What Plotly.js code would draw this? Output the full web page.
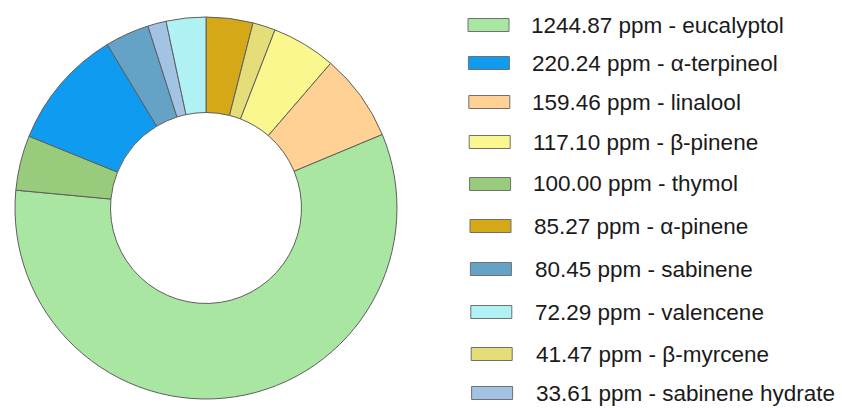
<!DOCTYPE html>
<html>
<head>
<meta charset="utf-8">
<script src="https://cdn.plot.ly/plotly-3.0.1.min.js"></script>
<style>html,body{margin:0;padding:0;background:#fff;}#chart{width:842px;height:408px;}</style>
</head>
<body>
<div id="chart"></div>
<script>
// Slice order (clockwise from 12 o'clock)
const sliceNames = ["α-pinene", "β-myrcene", "β-pinene", "linalool", "eucalyptol", "thymol", "α-terpineol", "sabinene", "sabinene hydrate", "valencene"];
const sliceValues = [85.27, 41.47, 117.10, 159.46, 1244.87, 100.00, 220.24, 80.45, 33.61, 72.29];
const sliceColors = ["#d4a816", "#e4dd78", "#fbf78f", "#ffd194", "#a8e6a2", "#98cb7b", "#0f9bef", "#64a3c5", "#a3c3e4", "#b0f2f4"];
// Legend order (descending value)
const legendNames = ["eucalyptol", "α-terpineol", "linalool", "β-pinene", "thymol", "α-pinene", "sabinene", "valencene", "β-myrcene", "sabinene hydrate"];

const byName = {};
sliceNames.forEach((n, i) => { byName[n] = {v: sliceValues[i], c: sliceColors[i]}; });

const W = 842, H = 408;
const cx = 206, cy = 208, R = 191;

const trace = {
  type: "pie",
  labels: sliceNames,
  values: sliceValues,
  marker: {colors: sliceColors, line: {color: "#5e5e5e", width: 1}},
  hole: 0.5,
  sort: false,
  direction: "clockwise",
  rotation: 0,
  textinfo: "none",
  hoverinfo: "label+value",
  showlegend: false,
  domain: {x: [(cx - R) / W, (cx + R) / W], y: [(H - cy - R) / H, (H - cy + R) / H]}
};

// manual legend geometry
const rowY = [25, 63, 102, 142, 184, 226, 269, 312, 354, 393];
const shapes = [], annotations = [];
legendNames.forEach((n, i) => {
  const d = byName[n];
  const y = rowY[i];
  const x0 = 468 + i * 0.4;
  shapes.push({
    type: "rect", xref: "paper", yref: "paper",
    x0: x0 / W, x1: (x0 + 41) / W,
    y0: (H - y - 6.5) / H, y1: (H - y + 6.5) / H,
    fillcolor: d.c, line: {color: "#707070", width: 1}
  });
  annotations.push({
    xref: "paper", yref: "paper",
    x: (530 + i * 0.6) / W, y: (H - y) / H,
    xanchor: "left", yanchor: "middle",
    text: d.v.toFixed(2) + " ppm - " + n,
    showarrow: false,
    borderpad: 0,
    font: {family: "Liberation Sans, Arial, sans-serif", size: 22.5, color: "#1a1a1a"}
  });
});

const layout = {
  width: W, height: H,
  margin: {l: 0, r: 0, t: 0, b: 0},
  paper_bgcolor: "#ffffff",
  showlegend: false,
  shapes: shapes,
  annotations: annotations
};

Plotly.newPlot("chart", [trace], layout, {displayModeBar: false, staticPlot: true});
</script>
</body>
</html>
